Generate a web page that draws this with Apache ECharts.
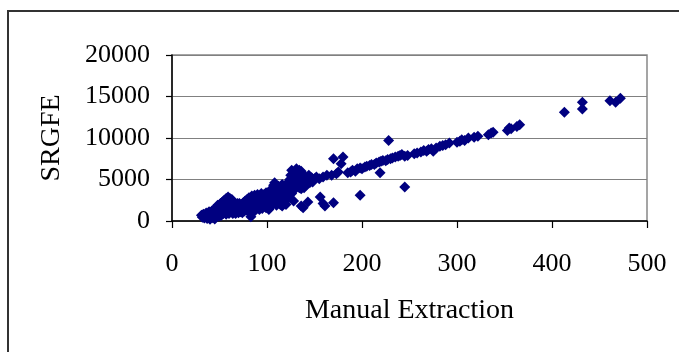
<!DOCTYPE html>
<html>
<head>
<meta charset="utf-8">
<script src="https://cdn.jsdelivr.net/npm/echarts@6/dist/echarts.min.js"></script>
<style>
html,body{margin:0;padding:0;background:#fff;}
#chart{width:679px;height:352px;}
</style>
</head>
<body>
<div id="chart"></div>
<script>
// Manual Extraction (x) vs SRGFE (y)
var xTicks = [0, 100, 200, 300, 400, 500];
var yTicks = [0, 5000, 10000, 15000, 20000];

var clusterPoints = [
[31,700],[32,450],[33,800],[34,350],[35,600],[36,950],[37,300],[38,700],[39,1100],[40,500],[40,200],[41,850],[42,1200],[43,400],[43,950],[44,1400],[45,700],[45,250],[46,1100],[47,1600],[47,500],[48,1900],[48,850],[49,1300],[50,600],[50,1700],[51,2100],[51,1000],[52,1400],[52,700],[53,2300],[53,1200],[54,1800],[54,900],[55,2500],[55,1500],[56,1100],[56,2000],[57,2700],[57,800],[58,1700],[58,2300],[59,2900],[59,1300],[60,2000],[60,900],[61,2700],[61,1600],[62,2300],[62,1100],[63,1900],[63,2600],[64,1400],[64,900],[65,2200],[65,1700],[66,1200],[66,2000],[67,1500],[67,900],[68,1900],[68,1200],[69,2100],[69,1600],[70,1000],[70,1800],[71,1400],[71,2100],[72,1700],[72,1100],[73,2000],[73,1400],[74,1800],[74,1000],[75,2200],[75,1500],[76,1900],[76,1200],[77,2400],[77,1600],[78,1300],[78,2100],[79,2600],[79,1800],[80,1500],[80,2300],[81,2800],[81,1100],[82,2000],[82,1600],[83,500],[83,2500],[84,1900],[84,3000],[85,1400],[85,2200],[86,2700],[86,1700],[87,3100],[87,1200],[88,2300],[88,1900],[89,2800],[89,1500],[90,3200],[90,2100],[91,1700],[91,2600],[92,3000],[92,1400],[93,2300],[93,1900],[94,3300],[94,2700],[95,1500],[95,2100],[96,2900],[96,2400],[97,3200],[97,1800],[98,2600],[98,2000],[99,3400],[99,1600],[100,2900],[100,2300],[101,1900],[101,3300],[102,2600],[102,1400],[103,3600],[103,2200],[104,3000],[104,1800],[105,3900],[105,2500],[106,3300],[106,2000],[107,4300],[107,2800],[108,4600],[108,3600],[109,2300],[109,3100],[110,4000],[110,1900],[111,3400],[111,2600],[112,4200],[112,2200],[113,3700],[113,3000],[114,2000],[114,4100],[115,3300],[115,2500],[116,4400],[116,1800],[117,3700],[117,2900],[118,4200],[118,2300],[119,3500],[119,3000],[120,4400],[120,2000],[121,3800],[122,4600],[122,2700],[123,4100],[124,5000],[124,3400],[125,5500],[126,4600],[126,6100],[127,4000],[128,5300],[128,2400],[129,4700],[130,5900],[130,5100],[131,6300],[132,4400],[133,5700],[134,6100],[134,4000],[135,5200],[136,1800],[137,4700],[138,1600],[139,5000],[140,5400],[141,4300],[142,4800],[143,2300],[144,5500],[145,4600],[146,5100],
[97,2700],[99,2200],[101,2800],[103,3000],[104,2600],[106,3700],[107,2400],[109,4100],[110,3500],[111,3000],[112,2900],[113,2500],[114,3500],[115,3900],[116,3000],[117,2200],[118,3400],[119,2600],[120,3200],[121,2900],[121,4200],[122,3500],[123,3100],[124,4400],[125,3800],[126,3300],[127,4800],[129,3800],[131,4700],[132,5400],[133,4900],[135,4400],[136,3900],[137,5500],[138,4400],[139,4000],[141,5000],[143,5200],[145,5300],[147,5200],[148,4700],[150,5100],[136,6000],[132,6000],[88,2600],[92,2400],[86,2000],[80,1900],[76,1600],[72,1500],[66,1600],[62,1800],[58,1400],[54,1400],[50,1200],[46,900]
];

var midPoints = [
[152,5300],[155,5100],[159,5300],[163,5500],[168,5500],[173,5700],[175,5900],[170,7500],[180,7700],[178,6900],[156,2900],[159,2100],[161,1800],[170,2200]
];

var linePoints = [
[185,5800],[188,5900],[190,6100],[193,6000],[195,6300],[198,6400],[200,6300],[203,6500],[205,6600],[208,6700],[210,6800],[213,6800],[215,7000],[218,7100],[220,7200],[222,7300],[225,7250],[227,7400],[230,7500],[232,7600],[235,7700],[238,7800],[240,7900],[242,8000],[245,7800],[248,7900],[255,8100],[258,8200],[262,8300],[265,8500],[268,8400],[270,8600],[273,8700],[275,8400],[278,8800],[282,9000],[285,9100],[288,9200],[292,9400],[300,9500],[303,9600],[305,9800],[308,9700],[312,10000],[318,10100],[322,10200],[333,10400],[336,10600],[338,10700],[353,10900],[355,11200],[357,11100],[363,11400],[366,11600]
];

var outlierPoints = [
[228,9700],[219,5800],[245,4100],[198,3100],[413,13100],[432,14300],[432,13500],[461,14500],[467,14300],[472,14800]
];

var allPoints = clusterPoints.concat(midPoints, linePoints, outlierPoints);

var chart = echarts.init(document.getElementById('chart'), null, {renderer: 'canvas'});
var font = '"Liberation Serif", "Times New Roman", serif';
chart.setOption({
  animation: false,
  backgroundColor: '#fff',
  graphic: [{
    type: 'rect', silent: true, z: -1,
    shape: {x: 8, y: 11, width: 720, height: 420},
    style: {fill: null, stroke: '#333', lineWidth: 2}
  }],
  grid: {
    left: 172, right: 32, top: 55, bottom: 131,
    show: true, borderColor: '#888', borderWidth: 1.5, backgroundColor: 'transparent'
  },
  xAxis: {
    type: 'value', min: xTicks[0], max: xTicks[xTicks.length - 1], interval: 100,
    name: 'Manual Extraction', nameLocation: 'middle', nameGap: 76,
    nameTextStyle: {fontFamily: font, fontSize: 28, color: '#000'},
    axisLine: {show: true, lineStyle: {color: '#000', width: 1.5}},
    axisTick: {show: true, inside: false, length: 7, lineStyle: {color: '#000', width: 1.2}},
    axisLabel: {fontFamily: font, fontSize: 26, color: '#000', margin: 30,
      formatter: function (v) { return String(v); }},
    splitLine: {show: false}
  },
  yAxis: {
    type: 'value', min: yTicks[0], max: yTicks[yTicks.length - 1], interval: 5000,
    name: 'SRGFE', nameLocation: 'middle', nameGap: 106,
    nameTextStyle: {fontFamily: font, fontSize: 28, color: '#000'},
    axisLine: {show: true, lineStyle: {color: '#000', width: 1.5}},
    axisTick: {show: true, inside: false, length: 6, lineStyle: {color: '#000', width: 1.2}},
    axisLabel: {fontFamily: font, fontSize: 26, color: '#000', margin: 22,
      formatter: function (v) { return String(v); }},
    splitLine: {show: true, lineStyle: {color: '#808080', width: 1.2}}
  },
  series: [{
    type: 'scatter',
    symbol: 'diamond',
    symbolSize: 11,
    itemStyle: {color: '#000080', opacity: 1},
    data: allPoints
  }]
});
</script>
</body>
</html>
